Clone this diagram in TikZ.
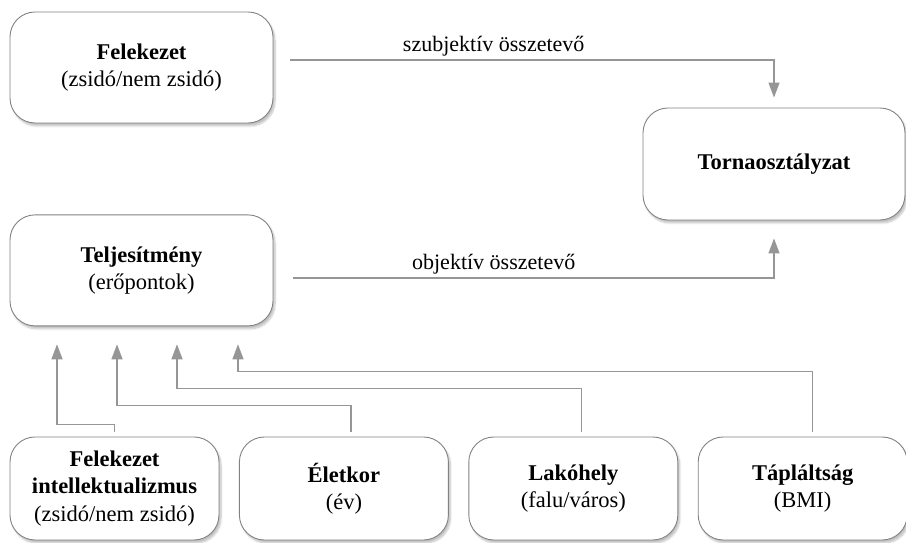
\documentclass[tikz,border=0pt]{standalone}
\usepackage{fontspec}
\setmainfont{Liberation Serif}
\usepackage{tikz}
\usetikzlibrary{arrows.meta, positioning, shadows.blur}

\definecolor{linegray}{RGB}{150,150,150}
\definecolor{boxgray}{RGB}{130,130,130}

\tikzset{
	factor/.style={draw=boxgray, line width=0.9pt, fill=white, rounded corners=25pt,
		align=center, inner sep=0pt, minimum width=263pt, minimum height=111pt,
		font=\fontsize{22.5}{27.5}\selectfont,
		blur shadow={shadow xshift=2pt, shadow yshift=-3pt, shadow blur steps=6, shadow opacity=25}},
	smallfactor/.style={factor, minimum width=209pt, minimum height=103pt},
	arr/.style={draw=linegray, line width=1.3pt, -{Triangle[width=11pt, length=15pt]}},
	lbl/.style={font=\fontsize{22}{25}\selectfont, above, inner sep=3pt}
}

\begin{document}
\begin{tikzpicture}[x=1pt, y=1pt]

\useasboundingbox (0,0) rectangle (906,543);

\node [factor] (fel) at (141.5,475.5) {
	\textbf{Felekezet} \\
	(zsidó/nem zsidó)};

\node [factor, below=91pt of fel] (telj) {
	\textbf{Teljesítmény} \\
	(erőpontok)};

\node [factor, minimum width=262pt, minimum height=112pt] (torna) at (774,379) {
	\textbf{Tornaosztályzat}};

\node [smallfactor] (intel) at (114.5,54.5) {
	\textbf{Felekezet} \\
	\textbf{intellektualizmus} \\
	(zsidó/nem zsidó)};

\node [smallfactor, right=19.5pt of intel] (kor) {
	\textbf{Életkor} \\
	(év)};

\node [smallfactor, right=19.5pt of kor] (lak) {
	\textbf{Lakóhely} \\
	(falu/város)};

\node [smallfactor, right=19.5pt of lak] (bmi) {
	\textbf{Tápláltság} \\
	(BMI)};

\draw [arr, shorten <=17pt, shorten >=10pt] ([yshift=7.5pt]fel.east) -| (torna)
	node [lbl, pos=0.22] {szubjektív összetevő};
\draw [arr, shorten <=20pt, shorten >=18pt] ([yshift=-7.5pt]telj.east) -| (torna)
	node [lbl, pos=0.22] {objektív összetevő};

\draw [arr, shorten <=5pt, shorten >=18pt] (intel.north) -- ++(0,12)
	-| ([xshift=-84.5pt]telj.south);
\draw [arr, shorten <=5pt, shorten >=18pt] ([xshift=7pt]kor.north) -- ++(0,31)
	-| ([xshift=-24.5pt]telj.south);
\draw [arr, shorten <=5pt, shorten >=18pt] ([xshift=8.5pt]lak.north) -- ++(0,48)
	-| ([xshift=35.5pt]telj.south);
\draw [arr, shorten <=5pt, shorten >=18pt] ([xshift=10pt]bmi.north) -- ++(0,65)
	-| ([xshift=96.5pt]telj.south);

\end{tikzpicture}
\end{document}
